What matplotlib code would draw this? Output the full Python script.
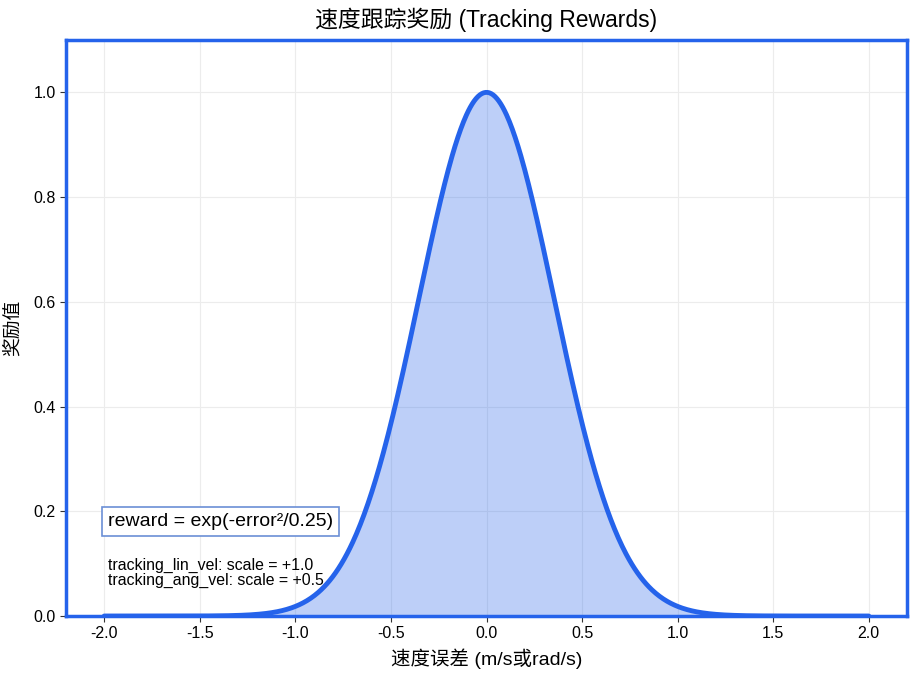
import numpy as np
import matplotlib
matplotlib.use("Agg")
import matplotlib.pyplot as plt

plt.rcParams['font.family'] = ['Liberation Sans', 'Noto Sans CJK SC', 'DejaVu Sans']
plt.rcParams['axes.unicode_minus'] = False

# Data
error_min, error_max = -2.0, 2.0
sigma_sq = 0.25
x_ticks = [-2.0, -1.5, -1.0, -0.5, 0.0, 0.5, 1.0, 1.5, 2.0]
y_ticks = [0.0, 0.2, 0.4, 0.6, 0.8, 1.0]
title = "速度跟踪奖励 (Tracking Rewards)"
xlabel = "速度误差 (m/s或rad/s)"
ylabel = "奖励值"
formula_text = "reward = exp(-error²/0.25)"
scale_lines = ["tracking_lin_vel: scale = +1.0", "tracking_ang_vel: scale = +0.5"]

error = np.linspace(error_min, error_max, 801)
reward = np.exp(-error**2 / sigma_sq)

blue = '#2563eb'
fig = plt.figure(figsize=(9.15, 6.75), dpi=100)
ax = fig.add_axes([66/915, 1-616/675, (907-66)/915, (616-40)/675])

ax.fill_between(error, reward, color=blue, alpha=0.3, linewidth=0)
ax.plot(error, reward, color=blue, linewidth=3.5, solid_capstyle='round')

ax.set_xlim(-2.2, 2.2)
ax.set_ylim(0, 1.1)
ax.set_xticks(x_ticks)
ax.set_xticklabels([f"{v:.1f}" for v in x_ticks])
ax.set_yticks(y_ticks)
ax.set_yticklabels([f"{v:.1f}" for v in y_ticks])
ax.tick_params(labelsize=11.5, length=4, color='#333333')
ax.grid(True, color='#ececec', linewidth=0.8)
ax.set_axisbelow(True)
for s in ax.spines.values():
    s.set_color(blue)
    s.set_linewidth(2.5)

ax.set_title(title, fontsize=16.5, pad=9)
ax.set_xlabel(xlabel, fontsize=14, labelpad=5)
ax.set_ylabel(ylabel, fontsize=13.5, labelpad=8)

ax.text(-1.98, 0.18, formula_text, fontsize=14, va='center', ha='left',
        bbox=dict(boxstyle='square,pad=0.3', facecolor='white', edgecolor='#6b8fd6', linewidth=1.2))
ax.text(-1.98, 0.096, scale_lines[0], fontsize=11.4, va='center', ha='left')
ax.text(-1.98, 0.068, scale_lines[1], fontsize=11.4, va='center', ha='left')

fig.savefig('out.png', dpi=100)
